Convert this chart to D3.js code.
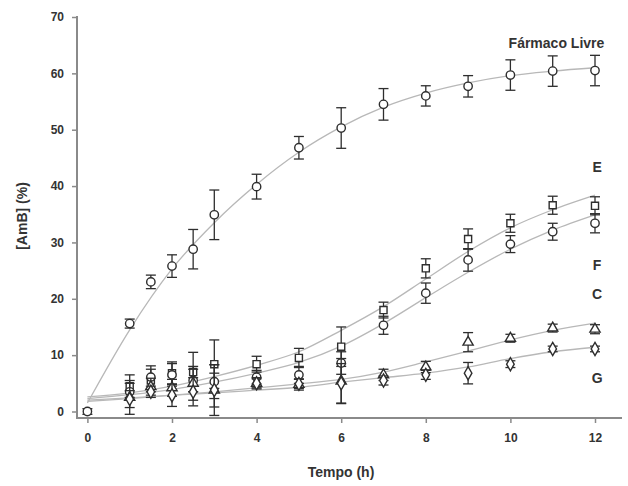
<!DOCTYPE html>
<html>
<head>
<meta charset="utf-8">
<script src="https://cdn.jsdelivr.net/npm/d3@7"></script>
<style>
  html, body { margin: 0; padding: 0; background: #fff; }
  svg { display: block; }
  text { font-family: "Liberation Sans", Arial, sans-serif; font-weight: bold; fill: #333; }
</style>
</head>
<body>
<svg id="chart" width="628" height="486"></svg>
<script>
// Release times (h)
const times    = [0, 1, 1.5, 2, 2.5, 3, 4, 5, 6, 7, 8, 9, 10, 11, 12];
const timesLip = [1, 1.5, 2, 2.5, 3, 4, 5, 6, 7, 8, 9, 10, 11, 12];

// Released AmB (%) and standard deviation per formulation
const livre    = [0, 15.6, 23.0, 25.8, 28.8, 34.9, 39.9, 46.8, 50.3, 54.5, 56.0, 57.7, 59.7, 60.4, 60.5];
const livreErr = [0.5, 0.8, 1.2, 2.0, 3.5, 4.4, 2.2, 2.0, 3.6, 2.8, 1.8, 1.9, 2.7, 2.7, 2.7];
const seriesE  = [4.5, 5.5, 6.8, 7.0, 8.4, 8.4, 9.5, 11.5, 18.0, 25.4, 30.6, 33.4, 36.6, 36.5];
const errE     = [2.0, 2.0, 2.0, 3.5, 4.3, 1.4, 1.7, 3.5, 1.4, 1.7, 1.8, 1.6, 1.6, 1.6];
const seriesF  = [3.5, 6.1, 6.5, 5.5, 5.3, 6.1, 6.5, 8.6, 15.3, 21.0, 26.9, 29.7, 31.9, 33.4];
const errF     = [1.5, 2.0, 2.0, 2.0, 3.0, 1.2, 1.5, 2.0, 1.6, 1.8, 2.0, 1.5, 1.5, 1.7];
const seriesC  = [2.5, 4.4, 4.2, 5.0, 3.8, 5.0, 4.8, 5.4, 6.5, 7.9, 12.3, 13.0, 14.8, 14.6];
const errC     = [3.0, 1.5, 1.5, 3.0, 4.5, 1.0, 1.0, 4.0, 1.0, 1.0, 1.7, 0.7, 0.7, 0.8];
const seriesG  = [2.2, 3.5, 2.9, 3.5, 3.8, 5.0, 4.9, 5.0, 5.5, 6.5, 6.8, 8.4, 11.1, 11.1];
const errG     = [1.5, 1.0, 2.0, 2.5, 3.0, 0.8, 0.8, 3.5, 0.8, 0.8, 1.9, 0.6, 0.5, 0.5];

// Fitted release curves, sampled hourly
const fitTimes = [0, 1, 2, 3, 4, 5, 6, 7, 8, 9, 10, 11, 12];
const fitLivre = [1.5, 14.5, 25.3, 33.5, 40.3, 46.0, 50.5, 54.0, 56.5, 58.3, 59.6, 60.4, 61.0];
const fitE     = [2.6, 3.3, 4.5, 6.2, 8.2, 10.6, 14.4, 18.6, 23.5, 28.4, 32.6, 35.8, 38.4];
const fitF     = [2.3, 3.0, 3.9, 5.2, 6.8, 8.7, 11.6, 15.6, 20.2, 24.7, 28.8, 32.2, 34.9];
const fitC     = [1.8, 2.3, 2.9, 3.5, 4.2, 4.9, 5.7, 7.0, 8.8, 10.7, 12.7, 14.4, 15.7];
const fitG     = [2.0, 2.4, 2.9, 3.3, 3.8, 4.3, 5.2, 6.0, 6.8, 7.9, 9.4, 10.6, 11.4];

const xTicks = [0, 2, 4, 6, 8, 10, 12];
const yTicks = [0, 10, 20, 30, 40, 50, 60, 70];

const series = [
  { name: "Fármaco Livre", t: times,    values: livre,   err: livreErr, fit: fitLivre, symbol: d3.symbolCircle,   size: 55 },
  { name: "E",             t: timesLip, values: seriesE, err: errE,     fit: fitE,     symbol: d3.symbolSquare,   size: 50 },
  { name: "F",             t: timesLip, values: seriesF, err: errF,     fit: fitF,     symbol: d3.symbolCircle,   size: 55 },
  { name: "C",             t: timesLip, values: seriesC, err: errC,     fit: fitC,     symbol: d3.symbolTriangle, size: 45 },
  { name: "G",             t: timesLip, values: seriesG, err: errG,     fit: fitG,     symbol: d3.symbolDiamond,  size: 50 }
];

const labels = [
  { text: "Fármaco Livre", x: 12.22, y: 65.4 },
  { text: "E", x: 12.05, y: 43.4 },
  { text: "F", x: 12.05, y: 26.0 },
  { text: "C", x: 12.05, y: 20.8 },
  { text: "G", x: 12.05, y: 6.0 }
];

const svg = d3.select("#chart");
const x = d3.scaleLinear().domain([0, 12]).range([87.4, 595]);
const y = d3.scaleLinear().domain([0, 70]).range([411.5, 17]);

const axisColor = "#8a8a8a";

// Axes
const xAxis = svg.append("g").attr("transform", "translate(0,418)")
  .call(d3.axisBottom(x).tickValues(xTicks).tickSize(5).tickPadding(10).tickFormat(d3.format("d")));
xAxis.select(".domain").remove();
svg.append("line").attr("x1", 76.5).attr("x2", 622).attr("y1", 418).attr("y2", 418)
  .attr("stroke", axisColor).attr("stroke-width", 2);

const yAxis = svg.append("g").attr("transform", "translate(77,0)")
  .call(d3.axisLeft(y).tickValues(yTicks).tickSize(5).tickPadding(8));
yAxis.select(".domain").remove();
svg.append("line").attr("x1", 77).attr("x2", 77).attr("y1", 16).attr("y2", 419)
  .attr("stroke", axisColor).attr("stroke-width", 2);

[xAxis, yAxis].forEach(g => {
  g.selectAll(".tick line").attr("stroke", axisColor).attr("stroke-width", 1.5);
  g.selectAll(".tick text").style("font-size", "12px").style("font-weight", "bold").attr("fill", "#333");
});

// Axis titles
svg.append("text").attr("x", 341).attr("y", 477).attr("text-anchor", "middle")
  .style("font-size", "14px").text("Tempo (h)");
svg.append("text").attr("transform", "translate(27,216) rotate(-90)").attr("text-anchor", "middle")
  .style("font-size", "14px").text("[AmB] (%)");

// Fitted curves
const line = d3.line().x((d, i) => x(fitTimes[i])).y(d => y(d)).curve(d3.curveMonotoneX);
series.forEach(s => {
  svg.append("path").attr("d", line(s.fit)).attr("fill", "none")
    .attr("stroke", "#b8b8b8").attr("stroke-width", 1.3);
});

// Error bars and markers
const ink = "#2e2e2e";
series.forEach(s => {
  const g = svg.append("g");
  s.values.forEach((v, i) => {
    const cx = x(s.t[i]);
    const top = y(v + s.err[i]), bot = y(v - s.err[i]);
    g.append("line").attr("x1", cx).attr("x2", cx).attr("y1", top).attr("y2", bot)
      .attr("stroke", ink).attr("stroke-width", 1.3);
    [top, bot].forEach(yy => g.append("line").attr("x1", cx - 5).attr("x2", cx + 5)
      .attr("y1", yy).attr("y2", yy).attr("stroke", ink).attr("stroke-width", 1.3));
  });
  s.values.forEach((v, i) => {
    g.append("path").attr("d", d3.symbol().type(s.symbol).size(s.size)())
      .attr("transform", `translate(${x(s.t[i])},${y(v)})`)
      .attr("fill", "#fff").attr("stroke", ink).attr("stroke-width", 1.4);
  });
});

// Series labels
labels.forEach(l => {
  svg.append("text").attr("x", x(l.x)).attr("y", y(l.y)).attr("text-anchor", l.text.length > 1 ? "end" : "middle")
    .attr("dy", "0.35em").style("font-size", "14px").text(l.text);
});
</script>
</body>
</html>
